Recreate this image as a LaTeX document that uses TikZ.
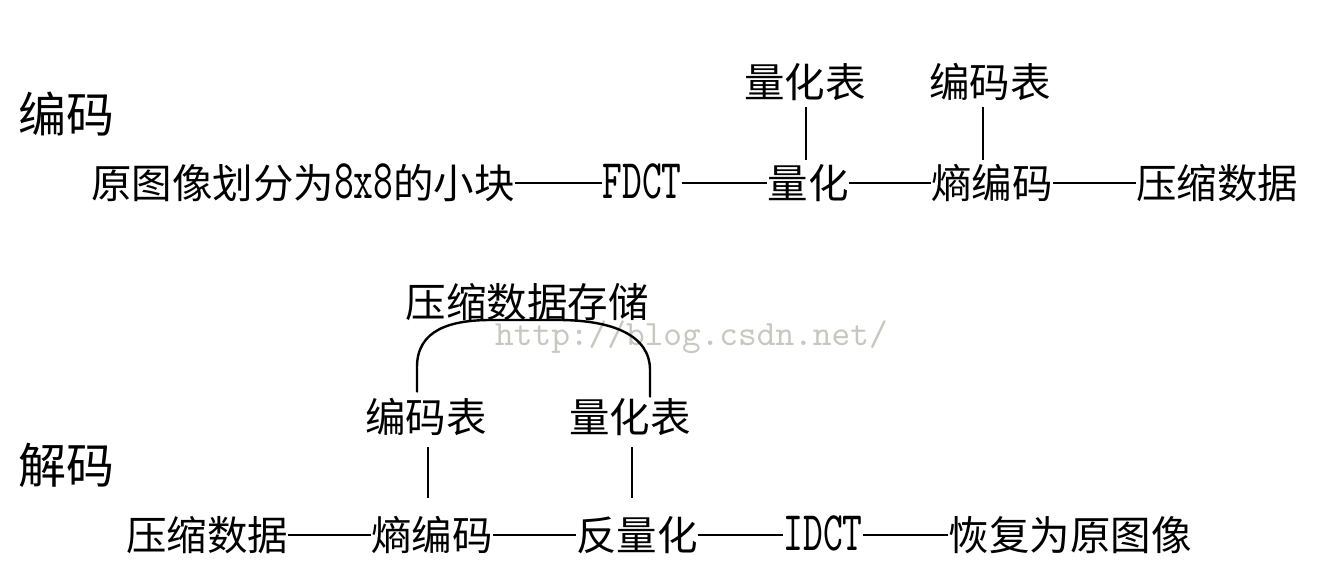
\documentclass[tikz,border=0pt]{standalone}
\usepackage{fontspec}
\newfontfamily\cjk{Noto Sans CJK SC}
\newfontfamily\latfont{lmmono10-regular.otf}[FakeStretch=0.673]
\newcommand\lat[1]{{\latfont\fontsize{56}{56}\selectfont #1}}
\newfontfamily\wmfont{lmmono10-regular.otf}
\definecolor{wmgray}{RGB}{200,200,192}
\begin{document}
\begin{tikzpicture}[x=1pt,y=-1pt,
  txt/.style={inner sep=0pt, font=\cjk\fontsize{40.5}{40.5}\selectfont, text height=35.6pt, text depth=4.9pt},
  sec/.style={inner sep=0pt, font=\cjk\fontsize{48}{48}\selectfont, text height=42.2pt, text depth=5.8pt},
  dashline/.style={line width=1.6pt},
  vline/.style={line width=2.2pt},
  arcline/.style={line width=2.4pt, line cap=round},
  wmark/.style={inner sep=0pt, anchor=base west, text=wmgray, font=\wmfont\fontsize{35.6}{35.6}\selectfont}
]
\useasboundingbox (0,0) rectangle (1322,580);
\fill[white] (0,0) rectangle (1322,580);

% section labels
\node[sec] (enc) at (66,114) {编码};
\node[sec] (dec) at (66,465) {解码};

% encoding row
\node[txt] (src)  at (303,183) {原图像划分为\lat{8x8}的小块};
\node[txt] (fdct) at (642,183) {\lat{FDCT}};
\node[txt] (q1)   at (808,183) {量化};
\node[txt] (e1)   at (992,183) {熵编码};
\node[txt] (c1)   at (1217,183) {压缩数据};
\node[txt] (lq1)  at (805,82) {量化表};
\node[txt] (lc1)  at (990,82) {编码表};

\draw[dashline] (src.east) -- (fdct.west);
\draw[dashline] (fdct.east) -- (q1.west);
\draw[dashline] (q1.east) -- (e1.west);
\draw[dashline] (e1.east) -- (c1.west);
\draw[vline, shorten <=4.5pt, shorten >=3pt] ([xshift=1pt]lq1.south) -- ([xshift=1pt]lq1.south |- q1.north);
\draw[vline, shorten <=4.5pt, shorten >=3pt] ([xshift=-7pt]lc1.south) -- ([xshift=-7pt]lc1.south |- e1.north);

% watermark
\node[wmark] (wm) at (495,345) {http://blog.csdn.net/};

% decoding part
\node[txt] (st)   at (527,302) {压缩数据存储};
\node[txt] (lc2)  at (426,417) {编码表};
\node[txt] (lq2)  at (630,417) {量化表};
\node[txt] (c2)   at (207,535) {压缩数据};
\node[txt] (e2)   at (432,535) {熵编码};
\node[txt] (dq)   at (637,535) {反量化};
\node[txt] (idct) at (823,535) {\lat{IDCT}};
\node[txt] (rec)  at (1070,535) {恢复为原图像};

\draw[dashline] (c2.east) -- (e2.west);
\draw[dashline] (e2.east) -- (dq.west);
\draw[dashline] (dq.east) -- (idct.west);
\draw[dashline] (idct.east) -- (rec.west);
\draw[vline, shorten <=10pt, shorten >=17pt] ([xshift=2pt]lc2.south) -- ([xshift=2pt]lc2.south |- e2.north);
\draw[vline, shorten <=10pt, shorten >=17pt] ([xshift=2pt]lq2.south) -- ([xshift=2pt]lq2.south |- dq.north);

\coordinate (aL) at ([xshift=-9pt,yshift=5pt]lc2.north);
\coordinate (aR) at ([xshift=20pt]lq2.north);
\draw[arcline] (aL) -- (417,367) .. controls (417,330) and (450,320) .. (491,320)
  -- (558,320) .. controls (612,320) and (650,335) .. (650,370) -- (aR);
\end{tikzpicture}
\end{document}
